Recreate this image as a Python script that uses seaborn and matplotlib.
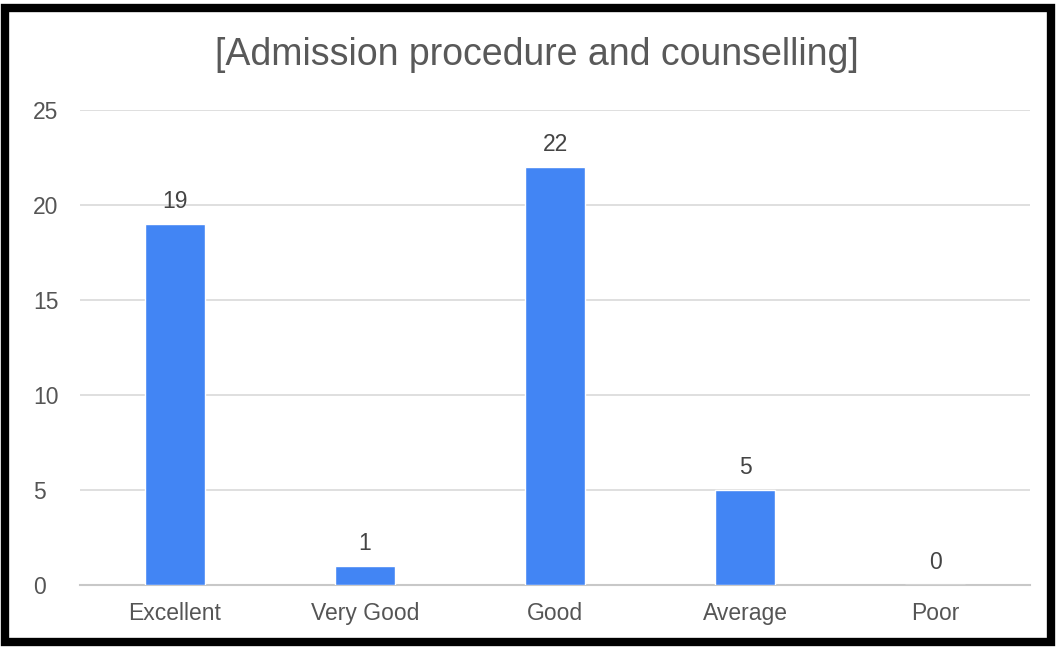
import matplotlib
matplotlib.use("Agg")
import matplotlib.pyplot as plt
import matplotlib.patches as mpatches
import seaborn as sns
import pandas as pd

categories = ["Excellent", "Very Good", "Good", "Average", "Poor"]
counts = [19, 1, 22, 5, 0]
yticks = [0, 5, 10, 15, 20, 25]
title = "[Admission procedure and counselling]"

df = pd.DataFrame({"category": categories, "count": counts})

sns.set_theme(style="white")
plt.rcParams["font.family"] = ["Liberation Sans", "DejaVu Sans"]

fig = plt.figure(figsize=(10.56, 6.47), dpi=100)
ax = fig.add_axes([80/1056, 62/647, 950/1056, 475/647])

sns.barplot(data=df, x="category", y="count", color="#4285F4", width=0.32,
            saturation=1, ax=ax, zorder=3)

ax.set_ylim(0, 25)
ax.set_yticks(yticks)
ax.set_xlim(-0.5, 4.5)
ax.yaxis.grid(True, color="#d9d9d9", linewidth=1.2, zorder=0)
ax.set_axisbelow(True)
for s in ["top", "right", "left"]:
    ax.spines[s].set_visible(False)
ax.spines["bottom"].set_color("#c8c8c8")
ax.spines["bottom"].set_linewidth(1.5)
ax.set_xlabel("")
ax.set_ylabel("")
ax.tick_params(axis="both", length=0, labelsize=16.5, colors="#555555")
ax.tick_params(axis="x", pad=12)
ax.tick_params(axis="y", pad=34)
for lbl in ax.get_yticklabels():
    lbl.set_horizontalalignment("left")

for i, v in enumerate(counts):
    ax.annotate(str(v), (i, v), xytext=(0, 8), textcoords="offset points",
                ha="center", va="bottom", fontsize=16.5, color="#444444")

fig.text(537/1056, 1 - 55/647, title, ha="center", va="center",
         fontsize=27, color="#595959")

# outer black frame
fig.patches.append(mpatches.Rectangle((5/1056, 5/647), 1046/1056, 634/647,
                                      transform=fig.transFigure, fill=False,
                                      edgecolor="black", linewidth=6))

fig.savefig("out.png", dpi=100)
